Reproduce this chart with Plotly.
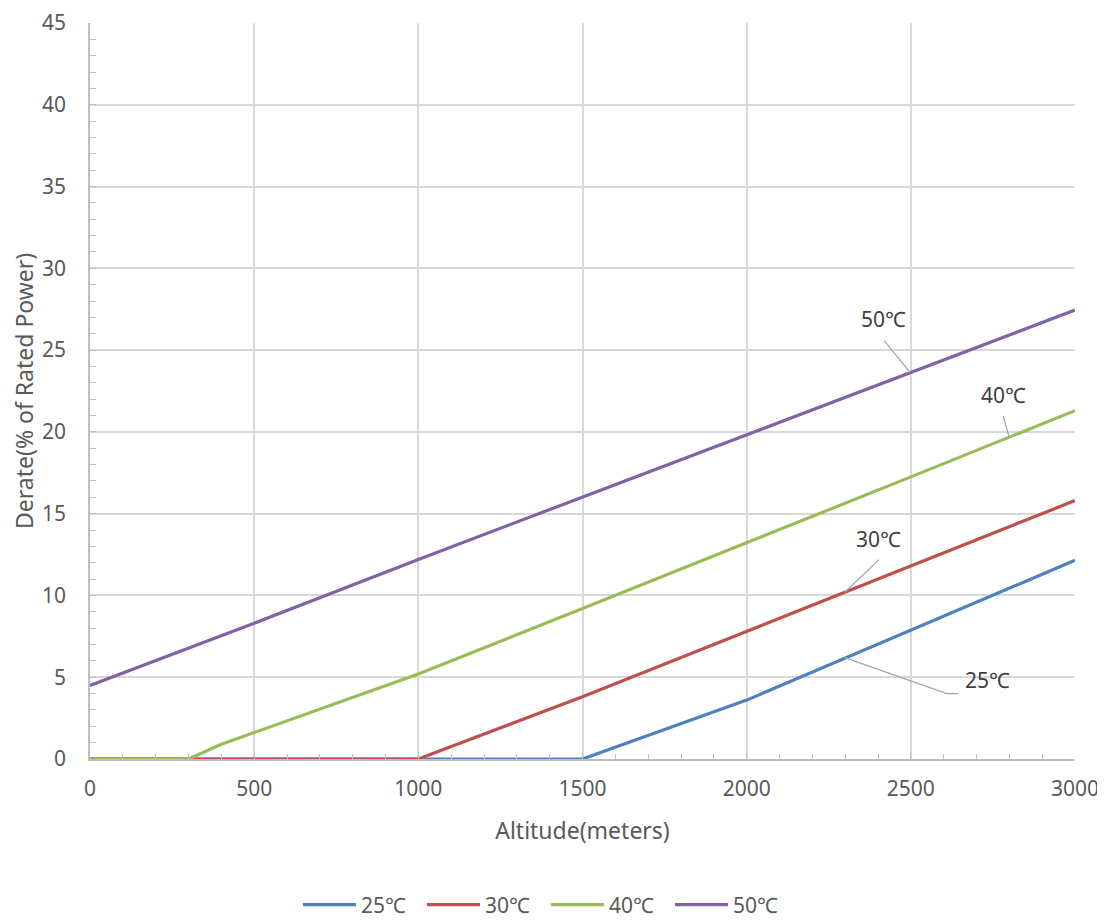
import plotly.graph_objects as go

alt_25 = [0, 1500, 2000, 2500, 3000]
val_25 = [0, 0, 3.6, 7.9, 12.15]
alt_30 = [0, 1000, 1500, 2000, 2500, 3000]
val_30 = [0, 0, 3.8, 7.8, 11.8, 15.8]
alt_40 = [0, 300, 400, 1000, 1500, 2000, 2500, 3000]
val_40 = [0, 0, 0.9, 5.2, 9.2, 13.2, 17.25, 21.3]
alt_50 = [0, 500, 1000, 1500, 2000, 2500, 3000]
val_50 = [4.5, 8.3, 12.2, 16.0, 19.85, 23.65, 27.45]

names = ["25℃", "30℃", "40℃", "50℃"]
colors = ["#4F81BD", "#C0504D", "#9BBB59", "#8064A2"]
series = [(alt_25, val_25), (alt_30, val_30), (alt_40, val_40), (alt_50, val_50)]

# label positions (data coords) with leader lines
label_text = ["25℃", "30℃", "40℃", "50℃"]
label_xy = [(2735, 4.8), (2403, 13.45), (2781, 22.25), (2418, 26.93)]
leader_x = [[2299, 2610, 2644], [2403, 2299], [2781, 2799], [2418, 2497]]
leader_y = [[6.2, 4.0, 4.0], [12.19, 10.19], [20.98, 19.71], [25.59, 23.65]]

FONT = "Noto Sans, Open Sans, Noto Sans CJK SC, sans-serif"
TXT = "#595959"
FS = 21
TFS = 23

fig = go.Figure()
for (xs, ys), n, c in zip(series, names, colors):
    fig.add_trace(go.Scatter(x=xs, y=ys, mode="lines", name=n,
                             line=dict(color=c, width=3.2)))

for lx, ly in zip(leader_x, leader_y):
    fig.add_trace(go.Scatter(x=lx, y=ly, mode="lines", showlegend=False,
                             hoverinfo="skip", line=dict(color="#A6A6A6", width=1.3)))

for t, (x, y) in zip(label_text, label_xy):
    fig.add_annotation(x=x, y=y, text=t, showarrow=False,
                       font=dict(family=FONT, size=FS, color="#404040"))

# y-axis title placed as a rotated annotation
fig.add_annotation(xref="paper", yref="paper", x=0, y=0.5, xanchor="center", yanchor="middle",
                   xshift=-66, textangle=-90, showarrow=False,
                   text="Derate(% of Rated Power)", font=dict(family=FONT, size=TFS, color=TXT))

fig.update_layout(
    width=1105, height=920,
    margin=dict(l=82, r=38, t=15, b=169),
    paper_bgcolor="white", plot_bgcolor="white",
    font=dict(family=FONT, size=FS, color=TXT),
    showlegend=True,
    legend=dict(orientation="h", xref="container", yref="container",
                x=0.2624, xanchor="left", y=0.025, yanchor="middle",
                font=dict(size=FS, color=TXT), itemwidth=53, tracegroupgap=0,
                entrywidth=56, entrywidthmode="pixels"),
)
fig.update_xaxes(
    range=[0, 3000], tickvals=[0, 500, 1000, 1500, 2000, 2500, 3000],
    showgrid=True, gridcolor="#D9D9D9", gridwidth=1.5,
    showline=True, linecolor="#BFBFBF", linewidth=1.5,
    ticks="inside", ticklen=6, tickcolor="#BFBFBF",
    minor=dict(dtick=100, ticks="inside", ticklen=5, tickcolor="#BFBFBF", showgrid=False),
    zeroline=False, automargin=False, ticklabeloverflow="allow",
    title=dict(text="Altitude(meters)", font=dict(size=TFS, color=TXT), standoff=22),
    tickfont=dict(size=FS, color=TXT), ticklabelstandoff=10,
)
fig.update_yaxes(
    range=[0, 45], tickvals=[0, 5, 10, 15, 20, 25, 30, 35, 40, 45],
    showgrid=True, gridcolor="#D9D9D9", gridwidth=1.5,
    showline=True, linecolor="#BFBFBF", linewidth=1.5,
    ticks="inside", ticklen=6, tickcolor="#BFBFBF",
    minor=dict(dtick=1, ticks="inside", ticklen=6, tickcolor="#BFBFBF", showgrid=False),
    zeroline=False, automargin=False, ticklabeloverflow="allow",
    tickfont=dict(size=FS, color=TXT), ticklabelstandoff=18,
)

fig.write_html("out.html")
